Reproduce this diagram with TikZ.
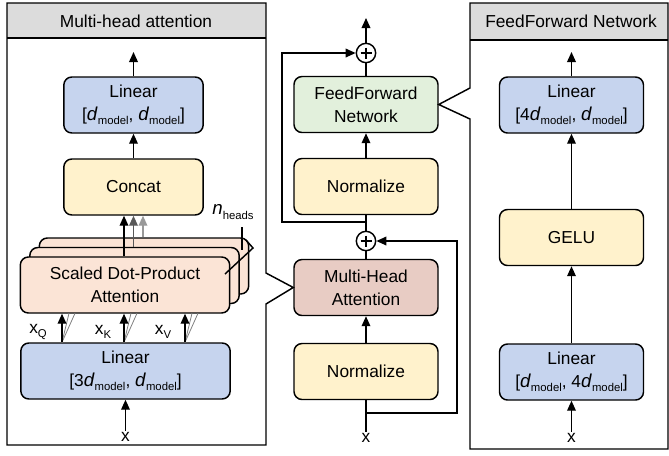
\documentclass[tikz,border=0pt]{standalone}
\usepackage{fontspec}
\setmainfont{Liberation Sans}
\usetikzlibrary{arrows.meta,calc}
\definecolor{hdr}{HTML}{DCDCDC}
\definecolor{cblue}{HTML}{C6D4EE}
\definecolor{cyel}{HTML}{FFF2CC}
\definecolor{cgreen}{HTML}{E2F0DC}
\definecolor{cmha}{HTML}{E8CCC4}
\definecolor{csdpa}{HTML}{FBE4D6}
\newcommand\subm[1]{\raisebox{-0.5ex}{\fontsize{8.5}{9}\selectfont #1}}
\newcommand\dmod{{\fontsize{14}{17}\selectfont\textit{d}}\subm{model}}
\tikzset{
  box/.style={draw, line width=1.1pt, rounded corners=6pt, align=center, inner sep=0pt,
    minimum height=42pt},
  wsmall/.style={minimum width=104.5pt},
  wmid/.style={minimum width=108pt},
  wwide/.style={minimum width=157pt},
  arr/.style={line width=1.1pt, -{Triangle[length=7.5pt,width=6.5pt]}},
  ln/.style={line width=1.1pt},
  plus/.style={draw, circle, line width=1.1pt, minimum size=14.5pt, inner sep=0pt, fill=white},
  lbl/.style={inner sep=1pt},
  frame/.style={line width=1.1pt},
}
\begin{document}
\begin{tikzpicture}[x=0.75pt,y=-0.75pt,font=\fontsize{13}{17}\selectfont]
\useasboundingbox (0,0) rectangle (669,455);
% ---------- left panel ----------
\fill[hdr] (7,3) rectangle (266,38);
\draw[frame] (7,38) -- (266,38);
\node[lbl] (hdrL) at (136,21) {Multi-head attention};
% ---------- right panel ----------
\fill[hdr] (470,3) rectangle (668,40);
\draw[frame] (470,40) -- (668,40);
\node[lbl] (hdrR) at (571,21) {FeedForward Network};

% left boxes
\node[box,wsmall,fill=cblue] (lin1) at (133.5,105) {Linear\\{[}\dmod, \dmod{]}};
\node[box,wsmall,fill=cyel] (cat) at (133.5,187) {Concat};
\node[box,wwide,fill=csdpa] (sdpa3) at (144,266) {};
\node[box,wwide,fill=csdpa] (sdpa2) at (134.5,275.5) {};
\node[box,wwide,fill=csdpa] (sdpa) at (125,285) {Scaled Dot-Product\\Attention};
\node[box,wwide,fill=cblue] (lin2) at (125.5,371) {Linear\\{[}3\dmod, \dmod{]}};
\node[lbl] (xin1) at (125.5,437) {x};

% middle boxes
\node[box,wmid,fill=cgreen] (ffn) at (366,104.5) {FeedForward\\Network};
\node[box,wmid,fill=cyel] (norm1) at (366,186.5) {Normalize};
\node[box,wmid,fill=cmha] (mha) at (366,287.5) {Multi-Head\\Attention};
\node[box,wmid,fill=cyel] (norm2) at (366,371.5) {Normalize};
\node[plus] (p1) at (366,53) {};
\node[plus] (p2) at (366,241) {};
\foreach \p in {p1,p2}{
  \draw[line width=1.3pt] ($(\p)+(-5.5,0)$) -- ($(\p)+(5.5,0)$);
  \draw[line width=1.3pt] ($(\p)+(0,-5.5)$) -- ($(\p)+(0,5.5)$);
}
\node[lbl] (xin2) at (366,438) {x};

% right boxes
\node[box,wmid,fill=cblue] (flin1) at (571.5,105) {Linear\\{[}4\dmod, \dmod{]}};
\node[box,wmid,fill=cyel] (gelu) at (571.5,237.5) {GELU};
\node[box,wmid,fill=cblue] (flin2) at (571.5,372) {Linear\\{[}\dmod, 4\dmod{]}};
\node[lbl] (xin3) at (571.5,438) {x};

% frames with pointers
\draw[frame] (7,3) -- (266,3) -- (266,273) -- (mha.west) -- (266,304) -- (266,445) -- (7,445) -- cycle;
\draw[frame] (470,88) -- (470,3) -- (668,3) -- (668,449) -- (470,449) -- (470,119) -- (ffn.east) -- cycle;

% left connectors
\coordinate (out1) at (133.5,52);
\draw[arr] (lin1) -- (out1);
\draw[arr] (cat) -- (lin1);
\coordinate (ca) at (124,0);
\coordinate (cb) at (133.5,0);
\coordinate (cc) at (143,0);
\draw[arr,color=black!40] (cc |- sdpa3.north) -- (cc |- cat.south);
\draw[arr,color=black!65] (cb |- sdpa2.north) -- (cb |- cat.south);
\draw[arr] (ca |- sdpa.north) -- (ca |- cat.south);
\draw[arr] (xin1) -- (lin2);
\foreach \xx/\nm in {62/q,124/k,185/v}{
  \coordinate (c\nm) at (\xx,0);
  \draw[line width=0.6pt,color=black!50] (c\nm |- lin2.north) -- ++(7,-29);
  \draw[line width=0.6pt,color=black!50] (c\nm |- lin2.north) -- ++(13,-29);
  \draw[arr] (c\nm |- lin2.north) -- (c\nm |- sdpa.south);
}
\node[lbl] (xq) at (38,332) {x\subm{Q}};
\node[lbl] (xk) at (103,332) {x\subm{K}};
\node[lbl] (xv) at (163,332) {x\subm{V}};
% n_heads
\node[lbl] (nh) at (233,212) {{\fontsize{14}{17}\selectfont\textit{n}}\subm{heads}};
\draw[ln] (242,227) -- (242,250);
\draw[ln] (225,274) -- (253,248) -- (246,240);

% middle connectors
\coordinate (out2) at (366,18);
\draw[ln] (xin2) -- (norm2);
\draw[arr] (norm2) -- (mha);
\draw[ln] (mha) -- (p2);
\draw[ln] (p2) -- (norm1);
\draw[arr] (norm1) -- (ffn);
\draw[ln] (ffn) -- (p1);
\draw[arr] (p1) -- (out2);
\coordinate (br1) at (366,222);
\coordinate (br2) at (366,413);
\draw[arr] (br1) -- ++(-84,0) |- (p1.west);
\draw[arr] (br2) -- ++(91,0) |- (p2.east);

% right connectors
\coordinate (out3) at (571.5,52);
\draw[arr] (xin3) -- (flin2);
\draw[arr] (flin2) -- (gelu);
\draw[arr] (gelu) -- (flin1);
\draw[arr] (flin1) -- (out3);
\end{tikzpicture}
\end{document}
